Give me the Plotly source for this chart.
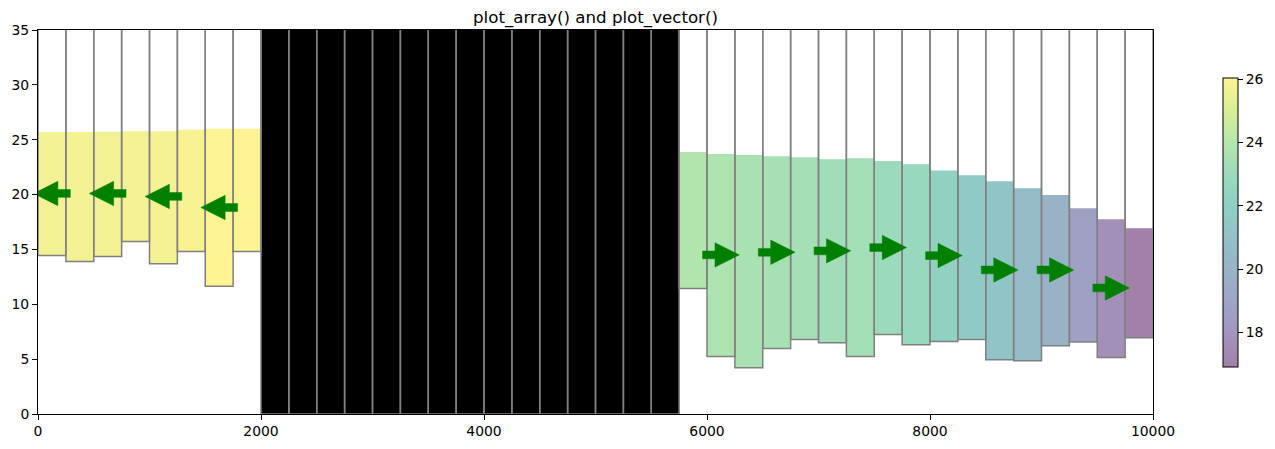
import plotly.graph_objects as go

col_w = 250
n_cols = 40
col_left = [i * col_w for i in range(n_cols)]

west_bottom = [14.44, 13.9, 14.35, 15.72, 13.7, 14.8, 11.64, 14.8]
west_head = [25.7, 25.7, 25.72, 25.78, 25.78, 25.9, 26.0, 26.0]
inactive_cols = 15
east_bottom = [11.43, 5.23, 4.22, 5.96, 6.78, 6.5, 5.23, 7.24, 6.32,
               6.6, 6.78, 4.95, 4.86, 6.23, 6.56, 5.14, 6.96]
east_head = [23.87, 23.69, 23.6, 23.5, 23.41, 23.23, 23.32, 23.05, 22.77,
             22.2, 21.77, 21.22, 20.58, 19.95, 18.76, 17.76, 16.93]

left_arrow_x = [125, 625, 1125, 1625]
left_arrow_y = [20.1, 20.1, 19.83, 18.82]
right_arrow_x = [6125, 6625, 7125, 7625, 8125, 8625, 9125, 9625]
right_arrow_y = [14.5, 14.74, 14.87, 15.17, 14.44, 13.13, 13.13, 11.49]

x_ticks = [0, 2000, 4000, 6000, 8000, 10000]
x_labels = ["0", "2000", "4000", "6000", "8000", "10000"]
y_ticks = [0, 5, 10, 15, 20, 25, 30, 35]
y_labels = ["0", "5", "10", "15", "20", "25", "30", "35"]
cbar_ticks = [18, 20, 22, 24, 26]
cbar_labels = ["18", "20", "22", "24", "26"]
title = "plot_array() and plot_vector()"

viridis = ["68,1,84", "72,40,120", "62,74,137", "49,104,142", "38,130,142",
           "31,158,137", "53,183,121", "109,205,89", "180,222,44", "253,231,37"]
alpha_scale = [[i / (len(viridis) - 1), f"rgba({c},0.5)"] for i, c in enumerate(viridis)]

W, H = 1275, 449
L, R, T, B = 38, 122, 30, 35
px_x = 10000 / (W - L - R)
px_y = 35 / (H - T - B)

all_bottom = west_bottom + [0.0] * inactive_cols + east_bottom
active_left = col_left[:8] + col_left[8 + inactive_cols:]
active_bottom = west_bottom + east_bottom
active_head = west_head + east_head
inactive_left = col_left[8:8 + inactive_cols]

fig = go.Figure()
fig.add_bar(
    x=[v + col_w / 2 for v in active_left],
    y=[h - b for h, b in zip(active_head, active_bottom)],
    base=active_bottom, width=col_w,
    marker=dict(
        color=active_head, colorscale=alpha_scale, cmin=16.9, cmax=26.04,
        line=dict(width=0),
        colorbar=dict(
            lenmode="pixels", len=289, thicknessmode="pixels", thickness=15,
            x=(1223 - L) / (W - L - R), xanchor="left", xpad=0,
            y=1 - (222.6 - T) / (H - T - B), yanchor="middle", ypad=0,
            outlinecolor="black", outlinewidth=1,
            tickmode="array", tickvals=cbar_ticks, ticktext=cbar_labels,
            ticks="outside", ticklen=5, tickwidth=1, tickcolor="black",
            tickfont=dict(family="DejaVu Sans", size=13.9, color="black"),
        ),
    ),
    hoverinfo="skip", showlegend=False,
)
fig.add_bar(
    x=[v + col_w / 2 for v in inactive_left], y=[35] * inactive_cols, base=0,
    width=col_w, marker=dict(color="black", line=dict(width=0)),
    hoverinfo="skip", showlegend=False,
)

ox, oy = [], []
for x0, b in zip(col_left, all_bottom):
    ox += [x0, x0, x0 + col_w, x0 + col_w, None]
    oy += [35, b, b, 35, None]
fig.add_scatter(x=ox, y=oy, mode="lines", line=dict(color="gray", width=1.5),
                hoverinfo="skip", showlegend=False)


def arrows(xs, ys, sign):
    ax, ay = [], []
    total, head, shaft, wing = 36.7, 24.3, 3.9, 12.2
    for x, y in zip(xs, ys):
        tail = -total / 2
        neck = total / 2 - head
        tip = total / 2
        pts = [(tail, shaft), (neck, shaft), (neck, wing), (tip, 0),
               (neck, -wing), (neck, -shaft), (tail, -shaft), (tail, shaft)]
        for dx, dy in pts:
            ax.append(x + sign * dx * px_x)
            ay.append(y + dy * px_y)
        ax.append(None)
        ay.append(None)
    return ax, ay


for xs, ys, sign in [(left_arrow_x, left_arrow_y, -1), (right_arrow_x, right_arrow_y, 1)]:
    ax, ay = arrows(xs, ys, sign)
    fig.add_scatter(x=ax, y=ay, mode="lines", fill="toself", fillcolor="green",
                    line=dict(color="green", width=0.5),
                    hoverinfo="skip", showlegend=False)

axis_font = dict(family="DejaVu Sans", size=13.9, color="black")
common = dict(showgrid=False, zeroline=False, showline=True, linecolor="black", linewidth=1,
              mirror=True, ticks="outside", ticklen=5, tickwidth=1, tickcolor="black",
              tickfont=axis_font, tickmode="array", layer="above traces", automargin=False)
fig.update_layout(
    width=W, height=H, autosize=False,
    margin=dict(l=L, r=R, t=T, b=B, pad=0, autoexpand=False),
    paper_bgcolor="white", plot_bgcolor="white",
    barmode="overlay", showlegend=False,
    title=dict(text=title, x=(38 + 1153) / 2 / W, xanchor="center", y=1 - 17 / H,
               yanchor="middle", font=dict(family="DejaVu Sans", size=16.67, color="black")),
    xaxis=dict(range=[0, 10000], tickvals=x_ticks, ticktext=x_labels, ticklabelstandoff=-1, **common),
    yaxis=dict(range=[0, 35], tickvals=y_ticks, ticktext=y_labels, **common),
)
fig.write_html("out.html", config=dict(displayModeBar=False),
               post_script="document.body.style.margin='0';document.documentElement.style.overflow='hidden';")
